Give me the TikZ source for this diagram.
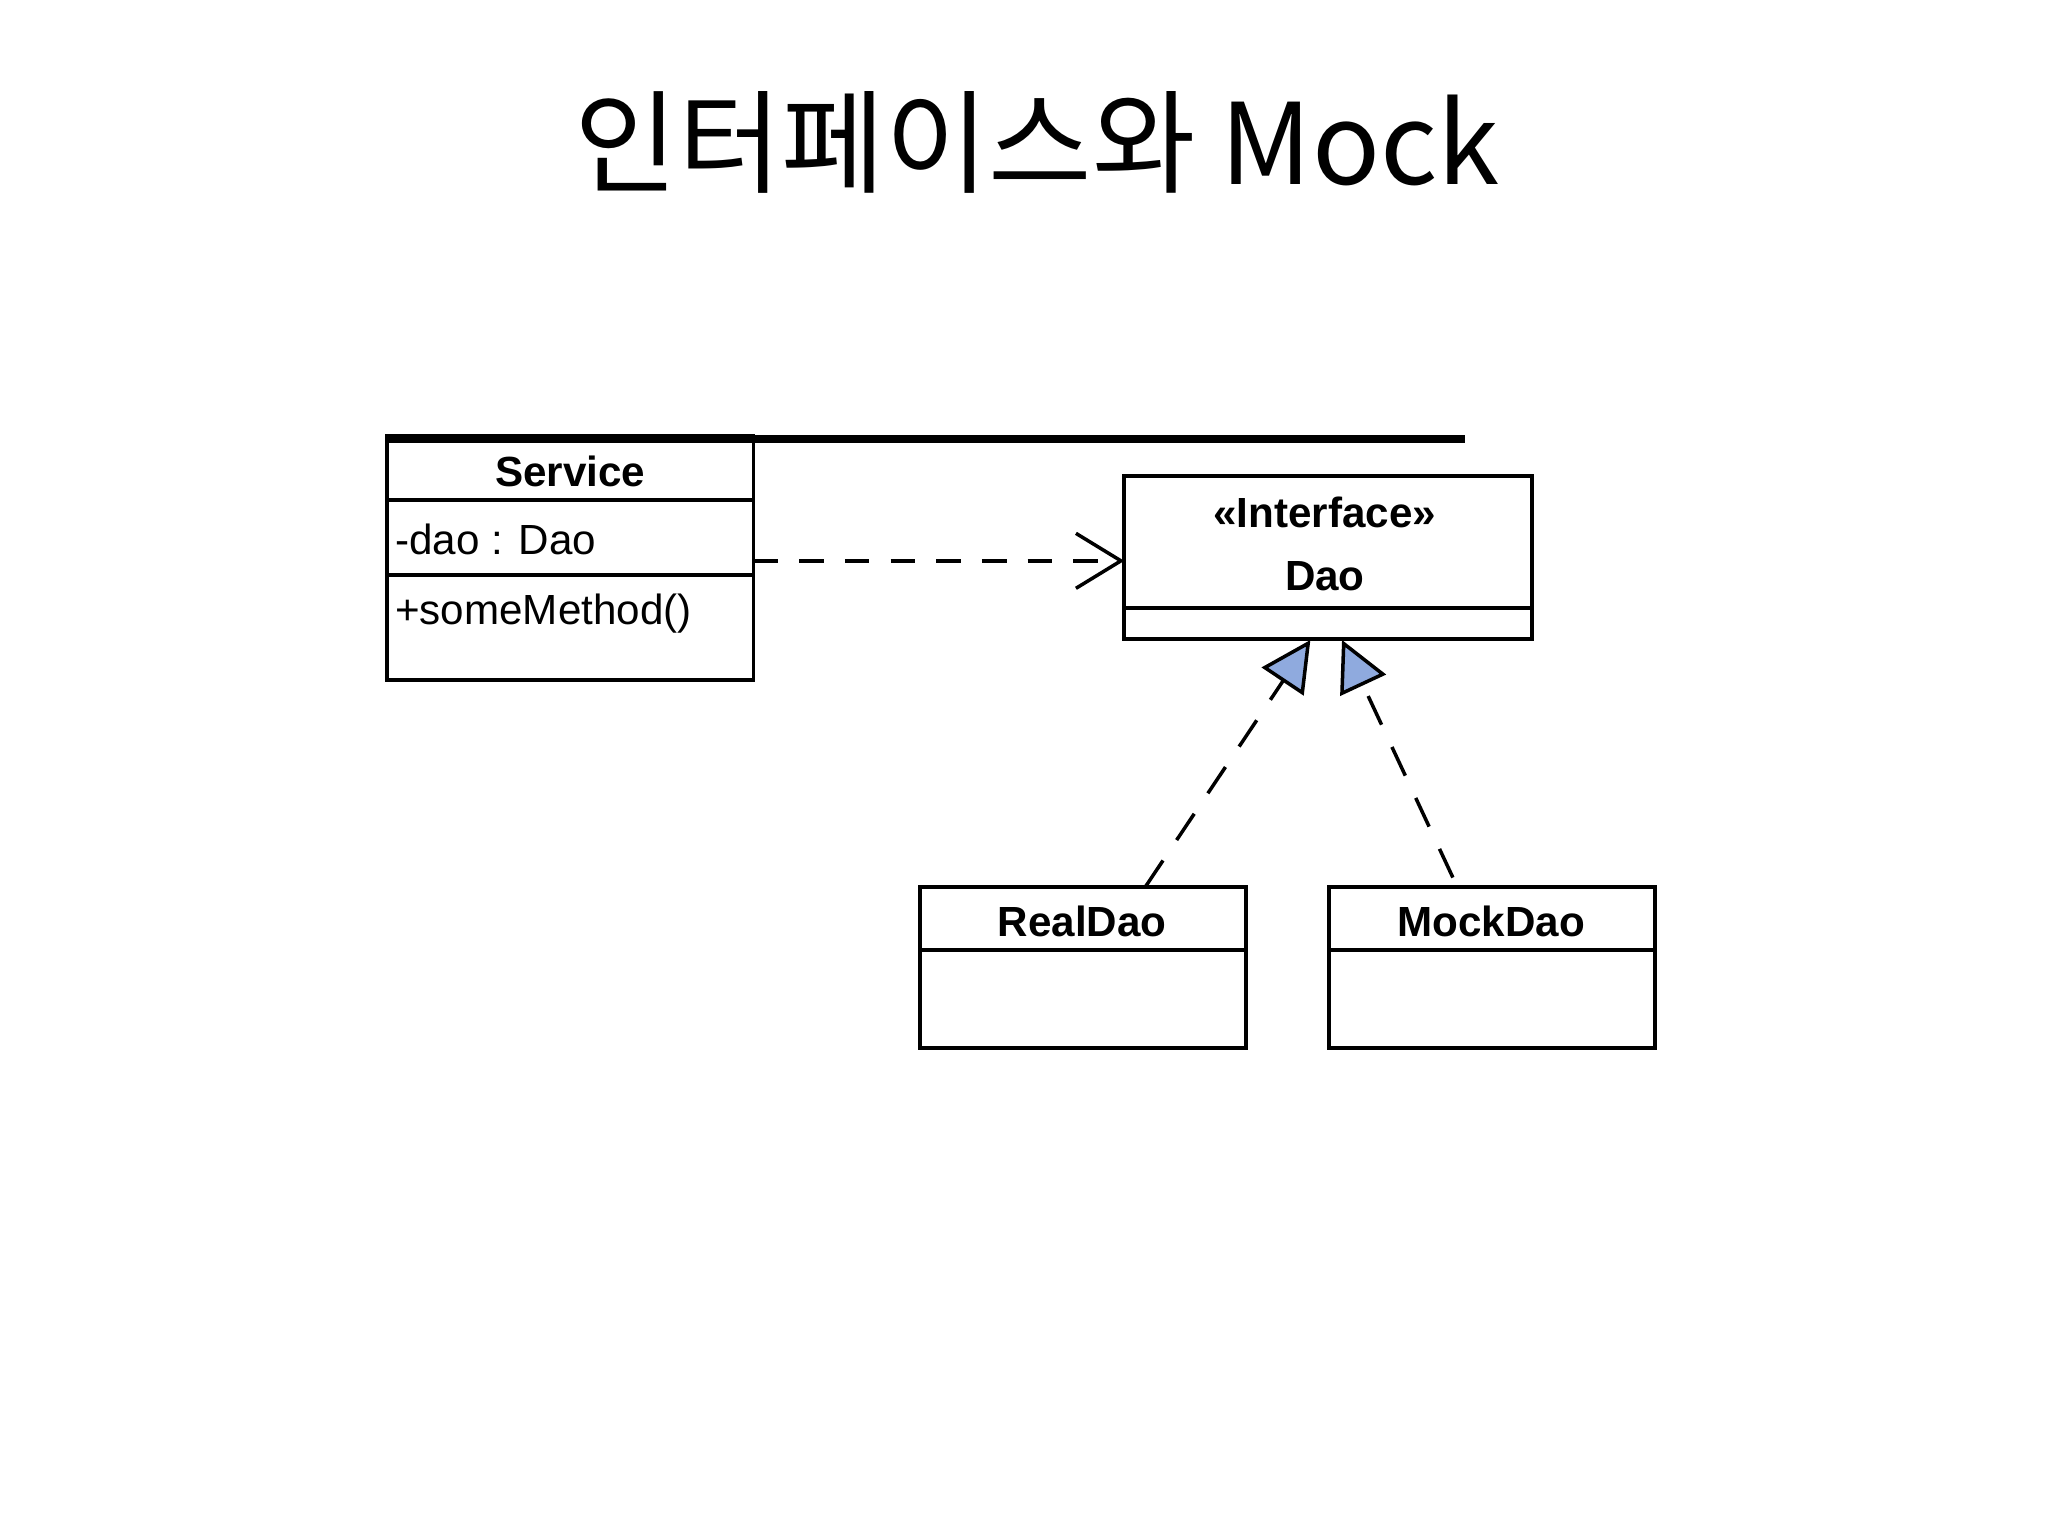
\documentclass[tikz,border=0pt]{standalone}
\usepackage{fontspec}
\setmainfont{Liberation Sans}
\newfontfamily\krfont{Noto Sans CJK KR}
\usetikzlibrary{arrows.meta}
\begin{document}
\begin{tikzpicture}[x=0.013196cm,y=-0.013196cm,
  box/.style={draw,line width=1.1pt,inner sep=0pt,anchor=north west},
  cls/.style={font=\fontsize{12pt}{14pt}\selectfont\bfseries},
  txt/.style={font=\fontsize{12pt}{14pt}\selectfont,anchor=west,inner sep=0pt},
  real/.style={line width=1pt,dash pattern=on 9pt off 7pt,
    -{Triangle[length=0.5cm,width=0.5cm,fill=cyan!45!blue!45!white,line width=1pt]}},
  dep/.style={line width=1pt,dash pattern=on 7pt off 6pt,
    -{Straight Barb[length=0.45cm,width=0.55cm,line width=1pt]}}]
\useasboundingbox (0,0) rectangle (1552,1164);
\node[font=\krfont\fontsize{32pt}{36pt}\selectfont] (title) at (786,108) {인터페이스와 Mock};
% Service
\node[box,minimum width=278\pgflinewidth] (svc) at (293,330) {};
\draw[line width=1.1pt] (293,330) rectangle (571,515) (293,379) -- (571,379) (293,436) -- (571,436);
\coordinate (svcE) at (571,425);
\node[cls] (svcN) at (432,357) {Service};
\node[txt] (svcA) at (299,409) {-dao : Dao};
\node[txt] (svcM) at (299,465) {+someMethod()};
% Dao
\draw[line width=1.1pt] (852,361) rectangle (1161,484) (852,461) -- (1161,461);
\coordinate (daoW) at (852,425);
\node[cls] (daoS) at (1004,388) {<<Interface>>};
\node[cls] (daoN) at (1004,437) {Dao};
% RealDao
\draw[line width=1.1pt] (697,672) rectangle (944,794) (697,720) -- (944,720);
\node[cls] (realN) at (820,698) {RealDao};
% MockDao
\draw[line width=1.1pt] (1007,672) rectangle (1254,794) (1007,720) -- (1254,720);
\node[cls] (mockN) at (1130,698) {MockDao};
% connectors
\coordinate (r1) at (868,672);
\coordinate (r2) at (993,485);
\coordinate (m1) at (1101,665);
\coordinate (m2) at (1017,485);
\draw[dep] (svcE) -- (daoW);
\draw[real] (r1) -- (r2);
\draw[real] (m1) -- (m2);
\end{tikzpicture}
\end{document}
